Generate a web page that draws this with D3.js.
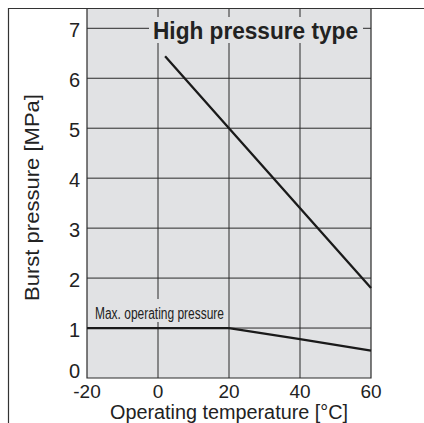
<!DOCTYPE html>
<html><head><meta charset="utf-8">
<script src="https://cdn.jsdelivr.net/npm/d3@7"></script>
<style>body{margin:0;background:#fff}svg{display:block}</style>
</head><body>
<script>
const xTicks = [-20, 0, 20, 40, 60];
const yTicks = [0, 1, 2, 3, 4, 5, 6, 7];
const burstTemp = [2, 20, 60];
const burstPressure = [6.44, 5.0, 1.8];
const maxOpTemp = [-20, 20, 40, 60];
const maxOpPressure = [1.0, 1.0, 0.78, 0.55];
const titleText = "High pressure type";
const maxOpLabel = "Max. operating pressure";
const xLabel = "Operating temperature [°C]";
const yLabel = "Burst pressure [MPa]";

(function () {
const W = 424, H = 423;
const svg = d3.select("body").append("svg").attr("width", W).attr("height", H);
const pL = 87, pR = 371, pT = 8, pB = 378;
const x = d3.scaleLinear().domain([-20, 60]).range([pL, pR]);
const y = d3.scaleLinear().domain([0, 7]).range([pB, 28.3]);
const grid = "#2a2a2a";
const bg = "#e1e2e4";
const font = "'Liberation Sans', Arial, Helvetica, sans-serif";

svg.append("rect").attr("x", pL).attr("y", pT).attr("width", pR - pL).attr("height", pB - pT).attr("fill", bg);

svg.append("g").selectAll("line").data(xTicks.slice(1, -1)).join("line")
  .attr("x1", d => x(d)).attr("x2", d => x(d)).attr("y1", pT).attr("y2", pB)
  .attr("stroke", grid).attr("stroke-width", 1);
svg.append("g").selectAll("line").data(yTicks.slice(1)).join("line")
  .attr("x1", pL).attr("x2", pR).attr("y1", d => y(d)).attr("y2", d => y(d))
  .attr("stroke", grid).attr("stroke-width", 1);

svg.append("path").attr("d", `M${pL},${pT}V${pB}H${pR}V${pT}`)
  .attr("fill", "none").attr("stroke", grid).attr("stroke-width", 1.2);
svg.append("path").attr("d", `M8.5,${H}V8.5H${W}`).attr("fill", "none").attr("stroke", "#333").attr("stroke-width", 1.2);

svg.append("g").selectAll("text").data(yTicks).join("text")
  .attr("x", 80).attr("y", d => d === 0 ? pB : y(d) + 8.5)
  .attr("text-anchor", "end").attr("font-family", font).attr("font-size", 20).attr("fill", "#222")
  .text(d => d);
svg.append("g").selectAll("text").data(xTicks).join("text")
  .attr("x", d => x(d)).attr("y", 398)
  .attr("text-anchor", "middle").attr("font-family", font).attr("font-size", 19).attr("fill", "#222")
  .text(d => d);

svg.append("text").attr("x", 110).attr("y", 419)
  .attr("font-family", font).attr("font-size", 20).attr("fill", "#222")
  .attr("textLength", 238).attr("lengthAdjust", "spacingAndGlyphs").text(xLabel);
svg.append("text").attr("transform", "translate(39,301) rotate(-90)")
  .attr("font-family", font).attr("font-size", 20).attr("fill", "#222")
  .attr("textLength", 207).attr("lengthAdjust", "spacingAndGlyphs").text(yLabel);

const tg = svg.append("g");
tg.append("rect").attr("x", 149).attr("y", 17).attr("width", 214).attr("height", 26).attr("fill", bg);
tg.append("text").attr("x", 153).attr("y", 38.5)
  .attr("font-family", font).attr("font-weight", "bold").attr("font-size", 23).attr("fill", "#222")
  .attr("textLength", 205).attr("lengthAdjust", "spacingAndGlyphs").text(titleText);

const mg = svg.append("g");
mg.append("rect").attr("x", 91).attr("y", 299).attr("width", 136).attr("height", 23).attr("fill", bg);
mg.append("text").attr("x", 95).attr("y", 318.5)
  .attr("font-family", "'Liberation Sans Narrow', 'Liberation Sans', Arial, sans-serif")
  .attr("font-size", 16).attr("fill", "#222").attr("textLength", 129).attr("lengthAdjust", "spacingAndGlyphs")
  .text(maxOpLabel);

const line = d3.line().x(d => x(d[0])).y(d => y(d[1]));
svg.append("path").datum(burstTemp.map((t, i) => [t, burstPressure[i]]))
  .attr("d", line).attr("fill", "none").attr("stroke", "#1a1a1a").attr("stroke-width", 2.3);
svg.append("path").datum(maxOpTemp.map((t, i) => [t, maxOpPressure[i]]))
  .attr("d", line).attr("fill", "none").attr("stroke", "#1a1a1a").attr("stroke-width", 2.3);
})();
</script>
</body></html>
